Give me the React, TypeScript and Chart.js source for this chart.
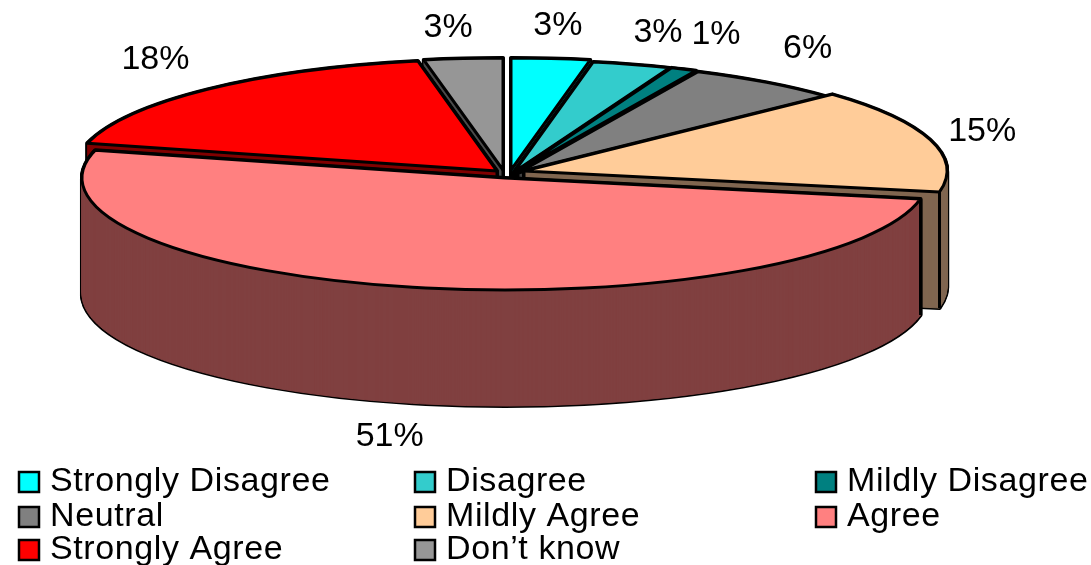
import React, { useEffect, useRef } from "react";
import { Chart, registerables } from "chart.js";

Chart.register(...registerables);

const categories = ["Strongly Disagree", "Disagree", "Mildly Disagree", "Neutral", "Mildly Agree", "Agree", "Strongly Agree", "Don\u2019t know"];
const shares = [3, 3, 1, 6, 15, 51, 18, 3];
const topColors = ["#00FFFF", "#33CCCC", "#008080", "#808080", "#FFCC99", "#FF8080", "#FF0000", "#969696"];
const wallColors = ["#008080", "#1A6666", "#004040", "#404040", "#806650", "#804040", "#800000", "#4B4B4B"];

// pie geometry on the page
const RX = 423;
const RY = 112;
const DEPTH = 116;
const LINE = 3;
// where each exploded slice's centre sits
const sliceCentreX = [511, 514, 516, 518, 524, 505, 497, 503];
const sliceCentreY = [170, 172, 172, 173, 171, 178, 171, 170];
// label position relative to the rim at the slice's middle angle
const labelShiftX = [7, 26, 32, 41, 52, -23, -52, -15];
const labelShiftY = [-33, -32, -35, -34, -8, 149, -30, -31];
// back-to-front painting order
const paintOrder = [7, 0, 1, 2, 3, 6, 4, 5];
// legend grid
const legendColumnX = [18, 414, 815];
const legendRowBaseline = [491, 526, 559];
const FONT = '34px "Liberation Sans", Arial, sans-serif';

const piePlugin = {
  id: "extrudedPie",
  beforeDatasetsDraw(chart: any) {
    const ctx = chart.ctx as CanvasRenderingContext2D;
    const arcs = chart.getDatasetMeta(0).data as any[];
    const nativeStroke = ctx.stroke;
    ctx.stroke = function (this: CanvasRenderingContext2D) {
      ctx.save();
      ctx.setTransform(1, 0, 0, 1, 0, 0);
      nativeStroke.call(ctx);
      ctx.restore();
    } as any;

    const saved = arcs.map((a) => a.options);
    const paint = (i: number, dy: number, fill: string, edge: string, width: number) => {
      const a = arcs[i];
      const sx = RX / a.outerRadius;
      const sy = RY / a.outerRadius;
      a.options = {
        backgroundColor: fill,
        borderColor: edge,
        borderWidth: width,
        borderAlign: "center",
        borderJoinStyle: "round",
        borderDash: [],
        borderDashOffset: 0,
        offset: 0,
        spacing: 0,
        circular: true,
      };
      ctx.save();
      ctx.setTransform(sx, 0, 0, sy, sliceCentreX[i] - a.x * sx, sliceCentreY[i] + dy - a.y * sy);
      a.draw(ctx);
      ctx.restore();
    };

    for (const i of paintOrder) {
      const a = arcs[i];
      const cx = sliceCentreX[i];
      const cy = sliceCentreY[i];
      for (let d = DEPTH; d >= 0; d -= 1) paint(i, d, "#000", "#000", LINE + 1);
      for (let d = DEPTH; d >= 0; d -= 1) paint(i, d, wallColors[i], wallColors[i], 1);
      ctx.save();
      ctx.strokeStyle = "#000";
      ctx.lineWidth = LINE;
      const corners: number[][] = [];
      const spansFront = a.startAngle < Math.PI / 2 && a.endAngle > Math.PI / 2;
      if (!spansFront) corners.push([cx, cy]);
      for (const ang of [a.startAngle, a.endAngle]) {
        if (Math.sin(ang) > 0) corners.push([cx + RX * Math.cos(ang), cy + RY * Math.sin(ang)]);
      }
      for (const [x, y] of corners) {
        ctx.beginPath();
        ctx.moveTo(x, y);
        ctx.lineTo(x, y + DEPTH);
        nativeStroke.call(ctx);
      }
      ctx.restore();
      paint(i, 0, topColors[i], "#000", LINE);
    }

    arcs.forEach((a, i) => (a.options = saved[i]));
    delete (ctx as any).stroke;
    return false;
  },
  afterDraw(chart: any) {
    const ctx = chart.ctx as CanvasRenderingContext2D;
    const arcs = chart.getDatasetMeta(0).data as any[];
    ctx.save();
    ctx.font = FONT;
    ctx.fillStyle = "#000";
    ctx.textAlign = "center";
    ctx.textBaseline = "middle";
    arcs.forEach((a, i) => {
      const mid = (a.startAngle + a.endAngle) / 2;
      const x = sliceCentreX[i] + RX * Math.cos(mid) + labelShiftX[i];
      const y = sliceCentreY[i] + RY * Math.sin(mid) + labelShiftY[i];
      ctx.fillText(`${shares[i]}%`, x, y);
    });
    ctx.textAlign = "left";
    ctx.textBaseline = "alphabetic";
    (ctx as any).letterSpacing = "0.6px";
    categories.forEach((label, i) => {
      const col = i % 3;
      const row = Math.floor(i / 3);
      const x = legendColumnX[col];
      const base = legendRowBaseline[row];
      ctx.fillStyle = topColors[i];
      ctx.strokeStyle = "#000";
      ctx.lineWidth = 2.5;
      ctx.beginPath();
      ctx.rect(x + 1, base - 19, 20, 20);
      ctx.fill();
      ctx.stroke();
      ctx.fillStyle = "#000";
      ctx.fillText(label, x + 32, base);
    });
    ctx.restore();
  },
};

export default function App() {
  const ref = useRef<HTMLCanvasElement>(null);
  useEffect(() => {
    const chart = new Chart(ref.current!, {
      type: "pie",
      data: {
        labels: categories,
        datasets: [{ data: shares, backgroundColor: topColors, borderColor: "#000", borderWidth: 2 }],
      },
      options: {
        animation: false,
        responsive: false,
        plugins: { legend: { display: false }, tooltip: { enabled: false } },
      },
      plugins: [piePlugin],
    } as any);
    return () => chart.destroy();
  }, []);
  return (
    <canvas
      ref={ref}
      width={1091}
      height={565}
      style={{ position: "fixed", left: 0, top: 0, width: 1091, height: 565, display: "block", background: "#fff" }}
    />
  );
}
